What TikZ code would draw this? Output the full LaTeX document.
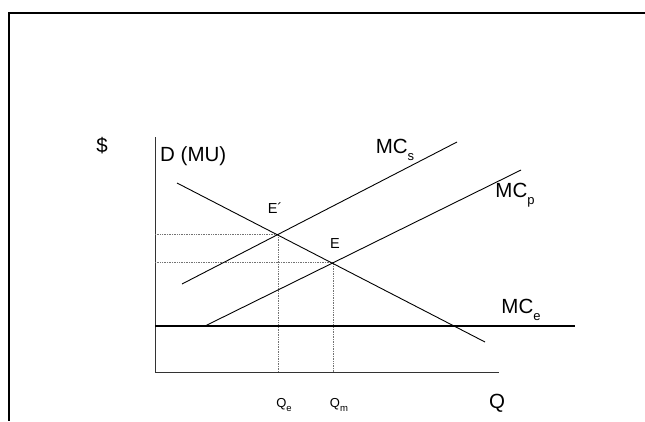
\documentclass[tikz,border=0pt]{standalone}
\usepackage{fontspec}
\setmainfont{Liberation Sans}
\newcommand{\sub}[1]{\raisebox{-0.33em}{\fontsize{13}{14}\selectfont #1}}
\newcommand{\subq}[1]{\raisebox{-0.3em}{\fontsize{9.5}{11}\selectfont #1}}
\begin{document}
\begin{tikzpicture}[x=1pt,y=-1pt,
  frame/.style={line width=2pt, black},
  axis/.style={line width=1pt, black!80},
  curve/.style={line width=0.9pt, black},
  heavy/.style={line width=1.8pt, black},
  guide/.style={densely dotted, line width=0.7pt, black!55},
  big/.style={font=\fontsize{20.5}{23}\selectfont, inner sep=0pt},
  mid/.style={font=\fontsize{14.5}{17}\selectfont, inner sep=0pt},
  small/.style={font=\fontsize{13}{15}\selectfont, inner sep=0pt}]
\useasboundingbox (0,0) rectangle (645,421);
% frame
\coordinate (fa) at (645,12.5);
\coordinate (fb) at (8.5,12.5);
\coordinate (fc) at (8.5,421);
\draw[frame] (fa) -- (fb) -- (fc);
% axes
\coordinate (o) at (155,372);
\coordinate (ytop) at (155,137);
\coordinate (xend) at (499,372);
\draw[axis] (ytop) -- (o) -- (xend);
% key points
\coordinate (Ep) at (278,234);
\coordinate (E) at (333,262);
% guides
\coordinate (yEp) at (155,234);
\coordinate (yE) at (155,262);
\coordinate (xEp) at (278,372);
\coordinate (xE) at (333,372);
\draw[guide] (yEp) -- (Ep) -- (xEp);
\draw[guide] (yE) -- (E) -- (xE);
% curves
\coordinate (d1) at (177,183);
\coordinate (d2) at (485,342);
\draw[curve] (d1) -- (d2);
\coordinate (s1) at (182,284);
\coordinate (s2) at (457,142);
\draw[curve] (s1) -- (s2);
\coordinate (p1) at (205,326);
\coordinate (p2) at (521,170);
\draw[curve] (p1) -- (p2);
\coordinate (e1) at (155,326);
\coordinate (e2) at (575,326);
\draw[heavy] (e1) -- (e2);
% labels
\node[big] (dollar) at (102,146) {\$};
\node[big, anchor=west] (dmu) at (160,156) {D (MU)};
\node[big] (mcs) at (395,150) {MC\sub{s}};
\node[big] (mcp) at (515,195) {MC\sub{p}};
\node[big] (mce) at (521,310) {MC\sub{e}};
\node[mid] (lEp) at (275,208) {E´};
\node[mid] (lE) at (335,244) {E};
\node[small] (qe) at (284,405) {Q\subq{e}};
\node[small] (qm) at (339,405) {Q\subq{m}};
\node[big] (q) at (497,403) {Q};
\end{tikzpicture}
\end{document}
